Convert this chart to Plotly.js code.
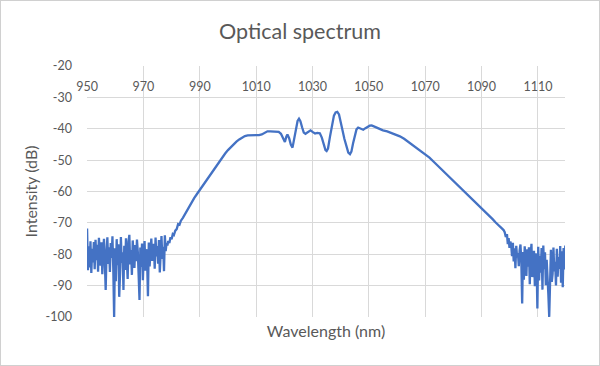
<!DOCTYPE html>
<html>
<head>
<meta charset="utf-8">
<script src="https://cdn.plot.ly/plotly-3.0.1.min.js"></script>
<style>
  html, body { margin: 0; padding: 0; background: #ffffff; }
  #wrap { position: relative; width: 600px; height: 366px; }
  #chart { width: 600px; height: 366px; }
  #frame { position: absolute; left: 0; top: 0; width: 598px; height: 364px; border: 1px solid #d0d0d0; pointer-events: none; }
</style>
</head>
<body>
<div id="wrap"><div id="chart"></div><div id="frame"></div></div>
<script>
// Noise floor, short-wavelength side
const leftNoiseWavelength = [
  950.0,950.3,950.6,950.9,951.2,951.5,951.8,952.1,952.4,952.7,
  953.0,953.3,953.6,953.9,954.2,954.5,954.8,955.1,955.4,955.7,
  956.0,956.3,956.6,956.9,957.2,957.5,957.8,958.1,958.4,958.7,
  959.0,959.3,959.6,959.9,960.2,960.5,960.8,961.1,961.4,961.7,
  962.0,962.3,962.6,962.9,963.2,963.5,963.8,964.1,964.4,964.7,
  965.0,965.3,965.6,965.9,966.2,966.5,966.8,967.1,967.4,967.7,
  968.0,968.3,968.6,968.9,969.2,969.5,969.8,970.1,970.4,970.7,
  971.0,971.3,971.6,971.9,972.2,972.5,972.8,973.1,973.4,973.7,
  974.0,974.3,974.6,974.9,975.2,975.5,975.8,976.1,976.4,976.7,
  977.0,977.3,977.6,977.9,978.2,978.5,978.8
];
const leftNoiseIntensity = [
  -71.8,-85.1,-77.5,-84.2,-75.9,-86.0,-78.3,-82.6,-76.1,-84.8,
  -75.4,-81.9,-77.0,-85.6,-74.8,-80.3,-83.7,-76.2,-86.4,-78.9,
  -75.1,-82.4,-91.4,-79.6,-74.6,-83.1,-77.8,-85.7,-76.4,-81.2,
  -74.3,-84.9,-100.0,-78.1,-88.6,-75.2,-83.5,-76.8,-93.6,-86.2,
  -74.5,-82.8,-79.4,-91.4,-77.3,-85.0,-74.9,-81.6,-87.9,-76.0,
  -73.8,-83.3,-78.7,-86.6,-75.6,-80.9,-84.4,-77.1,-82.2,-75.3,
  -79.2,-86.8,-94.6,-77.9,-84.1,-76.6,-88.3,-80.5,-75.8,-85.3,
  -78.4,-82.0,-93.4,-76.3,-83.9,-78.8,-75.0,-82.1,-79.9,-76.7,
  -84.6,-74.7,-80.7,-77.4,-83.0,-75.5,-85.8,-78.2,-74.2,-81.5,
  -77.6,-85.4,-74.0,-79.0,-76.5,-77.2,-75.8
];
// Amplified band
const bandWavelength = [
  979.2,979.6,980.0,980.4,980.8,981.3,981.8,982.3,982.8,983.3,
  984.0,985.0,986.0,987.0,988.0,989.0,990.0,991.0,992.0,993.0,
  994.0,995.0,996.0,997.0,998.0,999.0,1000.0,1001.0,1002.0,1003.0,
  1004.0,1005.0,1006.0,1007.0,1008.0,1009.0,1010.0,1011.0,1012.0,1013.0,
  1014.0,1015.0,1016.0,1017.0,1018.0,1018.8,1019.5,1020.2,1020.7,1021.1,
  1021.7,1022.3,1022.9,1023.5,1024.2,1024.7,1025.2,1025.7,1026.3,1026.9,
  1027.5,1028.0,1028.6,1029.3,1030.0,1030.9,1031.7,1032.6,1033.3,1034.0,
  1034.6,1035.0,1035.5,1036.2,1036.9,1037.6,1038.2,1038.8,1039.4,1040.0,
  1040.6,1041.3,1042.0,1042.7,1043.3,1043.8,1044.4,1045.0,1045.6,1046.2,
  1046.8,1047.4,1048.0,1048.8,1049.6,1050.3,1051.0,1052.0,1053.0,1054.0,
  1055.0,1056.5,1058.0,1059.5,1061.0,1062.5,1064.0,1065.5,1067.0,1068.5,
  1070.0,1071.5,1073.0,1074.5,1076.0,1077.5,1079.0,1080.5,1082.0,1083.5,
  1085.0,1086.5,1088.0,1089.5,1091.0,1092.5,1094.0,1095.0,1096.0,1097.0,
  1097.8,1098.2,1098.6,1099.0,1099.3,1099.6,1099.9,1100.2
];
const bandIntensity = [
  -76.4,-74.6,-75.2,-73.6,-73.9,-72.5,-72.0,-70.4,-70.6,-69.3,
  -68.4,-66.7,-65.1,-63.6,-62.1,-60.8,-59.5,-58.1,-56.8,-55.4,
  -54.1,-52.8,-51.5,-50.2,-49.0,-47.9,-46.8,-45.8,-44.9,-44.1,
  -43.4,-42.8,-42.3,-42.1,-42.1,-42.1,-42.1,-42.0,-41.8,-41.2,
  -40.8,-40.8,-40.9,-40.9,-41.0,-41.6,-43.0,-44.2,-42.5,-41.8,
  -43.0,-45.0,-46.0,-43.5,-39.5,-37.5,-36.8,-37.6,-39.5,-41.2,
  -41.6,-41.3,-40.7,-40.5,-41.0,-41.5,-41.3,-41.4,-42.8,-45.2,
  -46.8,-47.1,-46.3,-42.5,-38.6,-35.8,-34.8,-34.6,-35.4,-37.5,
  -40.3,-43.2,-45.9,-47.6,-48.1,-47.3,-44.6,-41.8,-40.2,-39.6,
  -39.8,-40.2,-40.3,-39.8,-39.3,-39.0,-38.9,-39.2,-39.7,-40.1,
  -40.5,-40.8,-41.3,-41.8,-42.4,-43.2,-44.2,-45.1,-46.1,-47.1,
  -48.1,-49.2,-50.5,-51.8,-53.1,-54.3,-55.6,-56.9,-58.2,-59.5,
  -60.9,-62.2,-63.6,-64.9,-66.3,-67.6,-68.9,-69.9,-70.9,-71.6,
  -72.3,-73.0,-74.5,-73.6,-76.8,-74.9,-78.0,-76.0
];
// Noise floor, long-wavelength side
const rightNoiseWavelength = [
  1100.5,1100.8,1101.1,1101.4,1101.7,1102.0,1102.3,1102.6,1102.9,1103.2,
  1103.5,1103.8,1104.1,1104.4,1104.7,1105.0,1105.3,1105.6,1105.9,1106.2,
  1106.5,1106.8,1107.1,1107.4,1107.7,1108.0,1108.3,1108.6,1108.9,1109.2,
  1109.5,1109.8,1110.1,1110.4,1110.7,1111.0,1111.3,1111.6,1111.9,1112.2,
  1112.5,1112.8,1113.1,1113.4,1113.7,1114.0,1114.3,1114.6,1114.9,1115.2,
  1115.5,1115.8,1116.1,1116.4,1116.7,1117.0,1117.3,1117.6,1117.9,1118.2,
  1118.5,1118.8,1119.1,1119.4,1119.7
];
const rightNoiseIntensity = [
  -77.0,-80.6,-76.4,-82.3,-78.1,-84.5,-77.3,-81.0,-79.6,-83.8,
  -78.8,-76.9,-82.3,-95.7,-79.3,-88.1,-77.5,-82.7,-86.9,-78.4,
  -84.0,-77.8,-89.6,-80.2,-76.7,-87.3,-81.5,-78.9,-90.2,-79.7,
  -82.1,-97.3,-77.6,-88.4,-80.5,-85.9,-78.0,-91.3,-77.2,-84.8,
  -79.4,-89.9,-81.8,-86.0,-93.0,-100.0,-83.6,-78.6,-88.8,-86.3,
  -77.9,-85.5,-82.4,-90.0,-78.3,-87.2,-80.9,-84.7,-77.4,-89.1,
  -79.1,-90.5,-78.0,-84.9,-77.2
];
// Axis ticks
const xTickValues = [950, 970, 990, 1010, 1030, 1050, 1070, 1090, 1110];
const xTickLabels = ['950', '970', '990', '1010', '1030', '1050', '1070', '1090', '1110'];
const yTickValues = [-100, -90, -80, -70, -60, -50, -40, -30, -20];
const yTickLabels = ['-100', '-90', '-80', '-70', '-60', '-50', '-40', '-30', '-20'];
const xRange = [949.97, 1119.6];
const yRange = [-100.03, -19.97];

const wavelength = [].concat(leftNoiseWavelength, bandWavelength, rightNoiseWavelength);
const intensity = [].concat(leftNoiseIntensity, bandIntensity, rightNoiseIntensity);

const textColor = '#595959';
const gridColor = '#d9d9d9';
const fontFamily = 'Lato, "Open Sans", sans-serif';

const trace = {
  x: wavelength, y: intensity, type: 'scatter', mode: 'lines',
  line: {color: '#4472C4', width: 2.3}, hoverinfo: 'skip', showlegend: false
};

const layout = {
  width: 600, height: 366,
  margin: {l: 87, r: 35, t: 66, b: 49, pad: 0},
  paper_bgcolor: '#ffffff', plot_bgcolor: '#ffffff',
  font: {family: fontFamily, color: textColor},
  title: {text: 'Optical spectrum', font: {family: fontFamily, size: 21.5, color: textColor},
          x: 0.5, xanchor: 'center', y: 1 - 31/366, yanchor: 'middle'},
  xaxis: {
    range: xRange, tickmode: 'array', tickvals: xTickValues, ticktext: xTickLabels, showticklabels: false,
    showgrid: true, gridcolor: gridColor, gridwidth: 1, zeroline: false, showline: false, ticks: '',
    title: {text: 'Wavelength (nm)', font: {family: fontFamily, size: 16, color: textColor}, standoff: 8}
  },
  xaxis2: {
    overlaying: 'x', matches: 'x', side: 'top', range: xRange,
    tickmode: 'array', tickvals: xTickValues, ticktext: xTickLabels,
    showgrid: false, zeroline: false, showline: false, ticks: '',
    ticklabelposition: 'outside', ticklabelstandoff: -28,
    tickfont: {family: fontFamily, size: 12.5, color: textColor}
  },
  yaxis: {
    range: yRange, tickmode: 'array', tickvals: yTickValues, ticktext: yTickLabels,
    showgrid: true, gridcolor: gridColor, gridwidth: 1,
    zeroline: false, showline: false, ticks: '', ticklabelstandoff: 14,
    tickfont: {family: fontFamily, size: 12.5, color: textColor},
    title: {text: 'Intensity (dB)', font: {family: fontFamily, size: 16, color: textColor}, standoff: 3}
  }
};

const dummyTop = {x: [950, 1110], y: [-60, -60], xaxis: 'x2', yaxis: 'y', type: 'scatter', mode: 'none',
  hoverinfo: 'skip', showlegend: false};

Plotly.newPlot('chart', [trace, dummyTop], layout, {displayModeBar: false, staticPlot: true});
</script>
</body>
</html>
